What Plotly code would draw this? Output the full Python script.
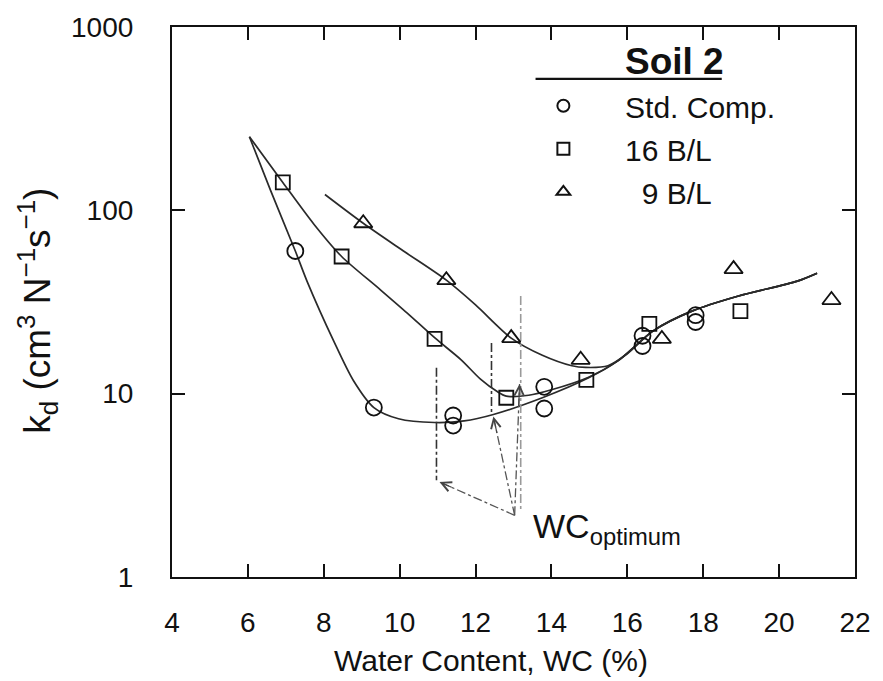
import math
import plotly.graph_objects as go

# ---------------- data ----------------
# measured points
std_x = [7.25, 9.32, 11.41, 11.41, 13.81, 13.81, 16.4, 16.4, 17.8, 17.8]
std_y = [60, 8.4, 7.6, 6.7, 10.9, 8.3, 20.7, 18.2, 26.8, 24.6]
b16_x = [6.92, 8.47, 10.92, 12.81, 14.92, 16.58, 18.98]
b16_y = [142, 56, 19.9, 9.5, 11.9, 24.0, 28.2]
b9_x = [9.04, 11.23, 12.94, 14.77, 16.91, 18.8, 21.38]
b9_y = [85, 41.6, 20.1, 15.3, 19.9, 47.8, 32.4]

# fitted curves
fit_std_x = [6.04, 6.6, 7.25, 7.56, 8.26, 8.78, 9.32, 9.97, 10.92, 11.7, 12.47,
             13.76, 14.98, 15.75, 16.68, 17.7, 18.93, 20.48, 21.0]
fit_std_y = [252, 128, 60, 41, 19.4, 11.8, 8.4, 7.3, 6.96, 7.1, 7.7,
             9.5, 12.2, 15.1, 22.0, 28.2, 34.1, 41.1, 45.4]
fit_16_x = [6.04, 6.92, 7.74, 8.47, 9.45, 10.2, 10.92, 11.62, 12.13, 12.56,
            12.81, 13.4, 14.0, 14.98, 15.75, 16.68, 17.7, 18.93, 20.48, 21.0]
fit_16_y = [252, 142, 84, 56, 37.5, 27.5, 20.2, 15.3, 12.0, 10.3,
            9.7, 9.8, 10.5, 12.3, 15.1, 22.0, 28.2, 34.1, 41.1, 45.4]
fit_9_x = [8.03, 9.04, 10.1, 11.23, 12.0, 12.94, 13.76, 14.54, 14.9, 15.49,
           16.0, 16.68, 17.7, 18.93, 20.48, 21.0]
fit_9_y = [122, 85, 60, 41.6, 30.5, 20.1, 16.2, 14.2, 13.9, 14.2,
           16.5, 22.0, 28.2, 34.1, 41.1, 45.4]

# WC optimum markers (vertical dash-dot lines and arrows)
wc_opt_x = [10.97, 12.42, 13.19]
wc_opt_top = [13.85, 18.9, 34.1]
wc_opt_bot = [3.37, 7.78, 2.31]
arrow_tail = (13.03, 2.17)
arrow_tip_x = [11.05, 12.47, 13.16]
arrow_tip_y = [3.30, 7.5, 11.3]

x_ticks = [4, 6, 8, 10, 12, 14, 16, 18, 20, 22]
y_ticks = [1, 10, 100, 1000]
y_ticktext = ["1", "10", "100", "1000"]

series_names = ["Std. Comp.", "16 B/L", "9 B/L"]

FONT = "Liberation Sans, Arial, Helvetica, sans-serif"
NB = "\u00a0"

fig = go.Figure()

line_style = dict(color="#2a2a2a", width=1.7, shape="spline", smoothing=0.8)
for fx, fy in [(fit_std_x, fit_std_y), (fit_16_x, fit_16_y), (fit_9_x, fit_9_y)]:
    fig.add_trace(go.Scatter(x=fx, y=fy, mode="lines", line=line_style,
                             showlegend=False, hoverinfo="skip"))

# WC optimum vertical dash-dot lines
wc_colors = ["#333333", "#333333", "#9a9a9a"]
for xv, yt, yb, c in zip(wc_opt_x, wc_opt_top, wc_opt_bot, wc_colors):
    fig.add_trace(go.Scatter(x=[xv, xv], y=[yt, yb], mode="lines",
                             line=dict(color=c, width=1.6, dash="dashdot"),
                             showlegend=False, hoverinfo="skip"))
# arrow shafts
for tx, ty in zip(arrow_tip_x, arrow_tip_y):
    fig.add_trace(go.Scatter(x=[arrow_tail[0], tx], y=[arrow_tail[1], ty], mode="lines",
                             line=dict(color="#555555", width=1.3, dash="dashdot"),
                             showlegend=False, hoverinfo="skip"))

mk_line = dict(color="#111111", width=1.8)
fig.add_trace(go.Scatter(x=std_x, y=std_y, mode="markers", name=NB * 5 + series_names[0],
                         marker=dict(symbol="circle-open", size=16, line=mk_line, color="#111111"),
                         legendgroup="a"))
fig.add_trace(go.Scatter(x=b16_x, y=b16_y, mode="markers", name=NB * 5 + series_names[1],
                         marker=dict(symbol="square-open", size=14, line=mk_line, color="#111111"),
                         legendgroup="b"))
fig.add_trace(go.Scatter(x=b9_x, y=b9_y, mode="markers", name=NB * 7 + series_names[2],
                         marker=dict(symbol="triangle-up-open", size=16, line=mk_line, color="#111111"),
                         legendgroup="c"))

annotations = []
# arrowheads
f = 0.18
for tx, ty in zip(arrow_tip_x, arrow_tip_y):
    lt, ltail = math.log10(ty), math.log10(arrow_tail[1])
    annotations.append(dict(
        x=tx, y=lt, xref="x", yref="y",
        ax=tx + f * (arrow_tail[0] - tx), ay=lt + f * (ltail - lt),
        axref="x", ayref="y", showarrow=True, arrowhead=5, arrowsize=1.6,
        arrowwidth=1.2, arrowcolor="#444444", text=""))

annotations.append(dict(
    x=13.45, y=math.log10(2.46), xref="x", yref="y", xanchor="left", yanchor="top",
    text="WC<sub>optimum</sub>", showarrow=False,
    font=dict(family=FONT, size=34, color="#111111")))

# legend heading
annotations.append(dict(
    x=(632 - 172) / 697, y=(577 - 60) / 552, xref="paper", yref="paper",
    xanchor="left", yanchor="middle", text="<b>Soil 2</b>", showarrow=False,
    font=dict(family=FONT, size=37, color="#111111")))

# axis titles
annotations.append(dict(
    x=(498 - 172) / 697, y=(577 - 661) / 552, xref="paper", yref="paper",
    xanchor="center", yanchor="middle", text="Water Content, WC (%)", showarrow=False,
    font=dict(family=FONT, size=30, color="#111111")))
annotations.append(dict(
    x=(35 - 172) / 697, y=(577 - 310) / 552, xref="paper", yref="paper",
    xanchor="center", yanchor="middle", textangle=-90,
    text="k<sub>d</sub> (cm<sup>3</sup> N<sup>\u22121</sup>s<sup>\u22121</sup>)",
    showarrow=False, font=dict(family=FONT, size=37, color="#111111")))

shapes = [dict(type="line", xref="paper", yref="paper",
               x0=(543 - 172) / 697, x1=(733 - 172) / 697,
               y0=(577 - 77) / 552, y1=(577 - 77) / 552,
               line=dict(color="#111111", width=2.2))]

fig.update_layout(
    width=883, height=681,
    margin=dict(l=172, r=14, t=25, b=104),
    paper_bgcolor="white", plot_bgcolor="white",
    font=dict(family=FONT, size=28, color="#111111"),
    showlegend=True,
    legend=dict(x=(551 - 172) / 697, y=(577 - 78) / 552, xanchor="left", yanchor="top",
                bgcolor="rgba(0,0,0,0)", borderwidth=0,
                font=dict(family=FONT, size=30, color="#111111"),
                tracegroupgap=1, itemsizing="constant"),
    annotations=annotations, shapes=shapes,
)

fig.update_xaxes(range=[4, 22], tickvals=x_ticks, ticks="inside", ticklen=13, tickwidth=2,
                 tickcolor="#111111", showline=True, linewidth=2.2, linecolor="#111111",
                 mirror="ticks", showgrid=False, zeroline=False, ticklabelstandoff=19,
                 ticklabeloverflow="allow",
                 tickfont=dict(family=FONT, size=28, color="#111111"))
fig.update_yaxes(type="log", range=[0, 3], tickvals=y_ticks, ticktext=y_ticktext,
                 ticks="inside", ticklen=13, tickwidth=2, tickcolor="#111111",
                 showline=True, linewidth=2.2, linecolor="#111111", mirror="ticks",
                 showgrid=False, zeroline=False, ticklabelstandoff=31,
                 ticklabeloverflow="allow",
                 tickfont=dict(family=FONT, size=28, color="#111111"))

fig.write_html("out.html", config={"displayModeBar": False},
               post_script="document.body.style.margin='0';document.body.style.overflow='hidden';")
